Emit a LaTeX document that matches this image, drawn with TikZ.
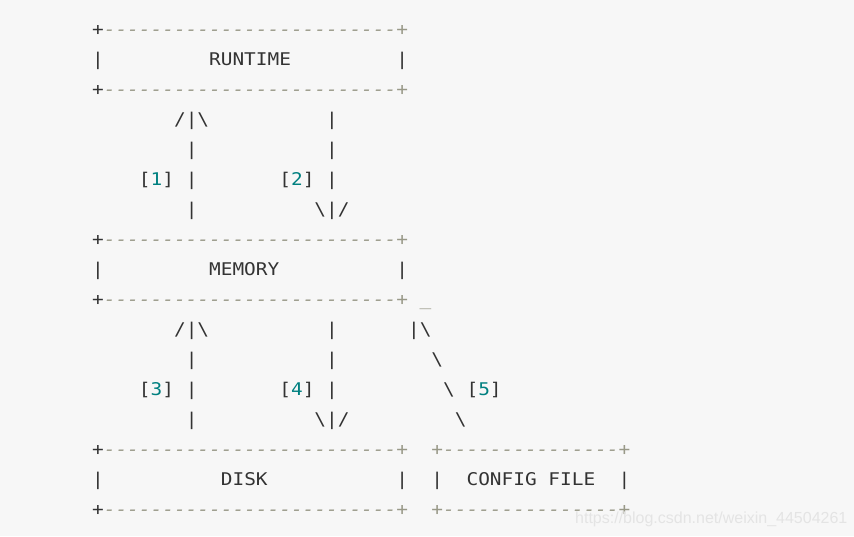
\documentclass[tikz,border=0pt]{standalone}
\usepackage{fontspec}
\setmonofont[FakeStretch=1.1105]{DejaVu Sans Mono}
\newfontfamily\wmfont{Liberation Sans}
\definecolor{codebg}{HTML}{F7F7F7}
\definecolor{codefg}{HTML}{333333}
\definecolor{cmt}{HTML}{999988}
\definecolor{num}{HTML}{008080}
\definecolor{wmark}{HTML}{E4E4E4}
\newcommand\cm[1]{{\itshape\color{cmt}#1}}
\newcommand\nm[1]{\textcolor{num}{#1}}
\newcommand\bs{\textbackslash}
\newcommand\place[4]{\node[txt] (#1) at ({92.15+11.7*#2},{30*#3+5.5}) {#4};}
\begin{document}
\begin{tikzpicture}[x=1pt,y=-1pt,
  txt/.style={anchor=base west,inner sep=0pt,outer sep=0pt,
    font=\ttfamily\fontsize{17.5}{21}\selectfont,text=codefg}]
\fill[codebg] (0,0) rectangle (854,536);
\useasboundingbox (0,0) rectangle (854,536);
% RUNTIME box
\place{rt-a}{0}{1}{+}
\place{rt-top}{1}{1}{\cm{-------------------------+}}
\place{rt-l}{0}{2}{|}
\place{rt}{10}{2}{RUNTIME}
\place{rt-r}{26}{2}{|}
\place{rt-b}{0}{3}{+}
\place{rt-bot}{1}{3}{\cm{-------------------------+}}
% arrows 1 and 2
\place{a1-head}{7}{4}{/|\bs}
\place{a2-s1}{20}{4}{|}
\place{a1-s1}{8}{5}{|}
\place{a2-s2}{20}{5}{|}
\place{l1}{4}{6}{[\nm{1}]}
\place{a1-s2}{8}{6}{|}
\place{l2}{16}{6}{[\nm{2}]}
\place{a2-s3}{20}{6}{|}
\place{a1-s3}{8}{7}{|}
\place{a2-head}{19}{7}{\bs|/}
% MEMORY box
\place{mem-a}{0}{8}{+}
\place{mem-top}{1}{8}{\cm{-------------------------+}}
\place{mem-l}{0}{9}{|}
\place{mem}{10}{9}{MEMORY}
\place{mem-r}{26}{9}{|}
\place{mem-b}{0}{10}{+}
\place{mem-bot}{1}{10}{\cm{-------------------------+ \_}}
% arrows 3, 4 and 5
\place{a3-head}{7}{11}{/|\bs}
\place{a4-s1}{20}{11}{|}
\place{a5-head}{27}{11}{|\bs}
\place{a3-s1}{8}{12}{|}
\place{a4-s2}{20}{12}{|}
\place{a5-s1}{29}{12}{\bs}
\place{l3}{4}{13}{[\nm{3}]}
\place{a3-s2}{8}{13}{|}
\place{l4}{16}{13}{[\nm{4}]}
\place{a4-s3}{20}{13}{|}
\place{a5-s2}{30}{13}{\bs}
\place{l5}{32}{13}{[\nm{5}]}
\place{a3-s3}{8}{14}{|}
\place{a4-head}{19}{14}{\bs|/}
\place{a5-s3}{31}{14}{\bs}
% DISK and CONFIG FILE boxes
\place{dk-a}{0}{15}{+}
\place{dk-top}{1}{15}{\cm{-------------------------+}}
\place{cf-top}{29}{15}{\cm{+---------------+}}
\place{dk-l}{0}{16}{|}
\place{dk}{11}{16}{DISK}
\place{dk-r}{26}{16}{|}
\place{cf-l}{29}{16}{|}
\place{cf}{32}{16}{CONFIG FILE}
\place{cf-r}{45}{16}{|}
\place{dk-b}{0}{17}{+}
\place{dk-bot}{1}{17}{\cm{-------------------------+}}
\place{cf-bot}{29}{17}{\cm{+---------------+}}
% watermark
\node[anchor=base west,inner sep=0pt,text=wmark,font=\wmfont\fontsize{16}{18}\selectfont] (wm) at (575,523) {https://blog.csdn.net/weixin\_44504261};
\end{tikzpicture}
\end{document}
